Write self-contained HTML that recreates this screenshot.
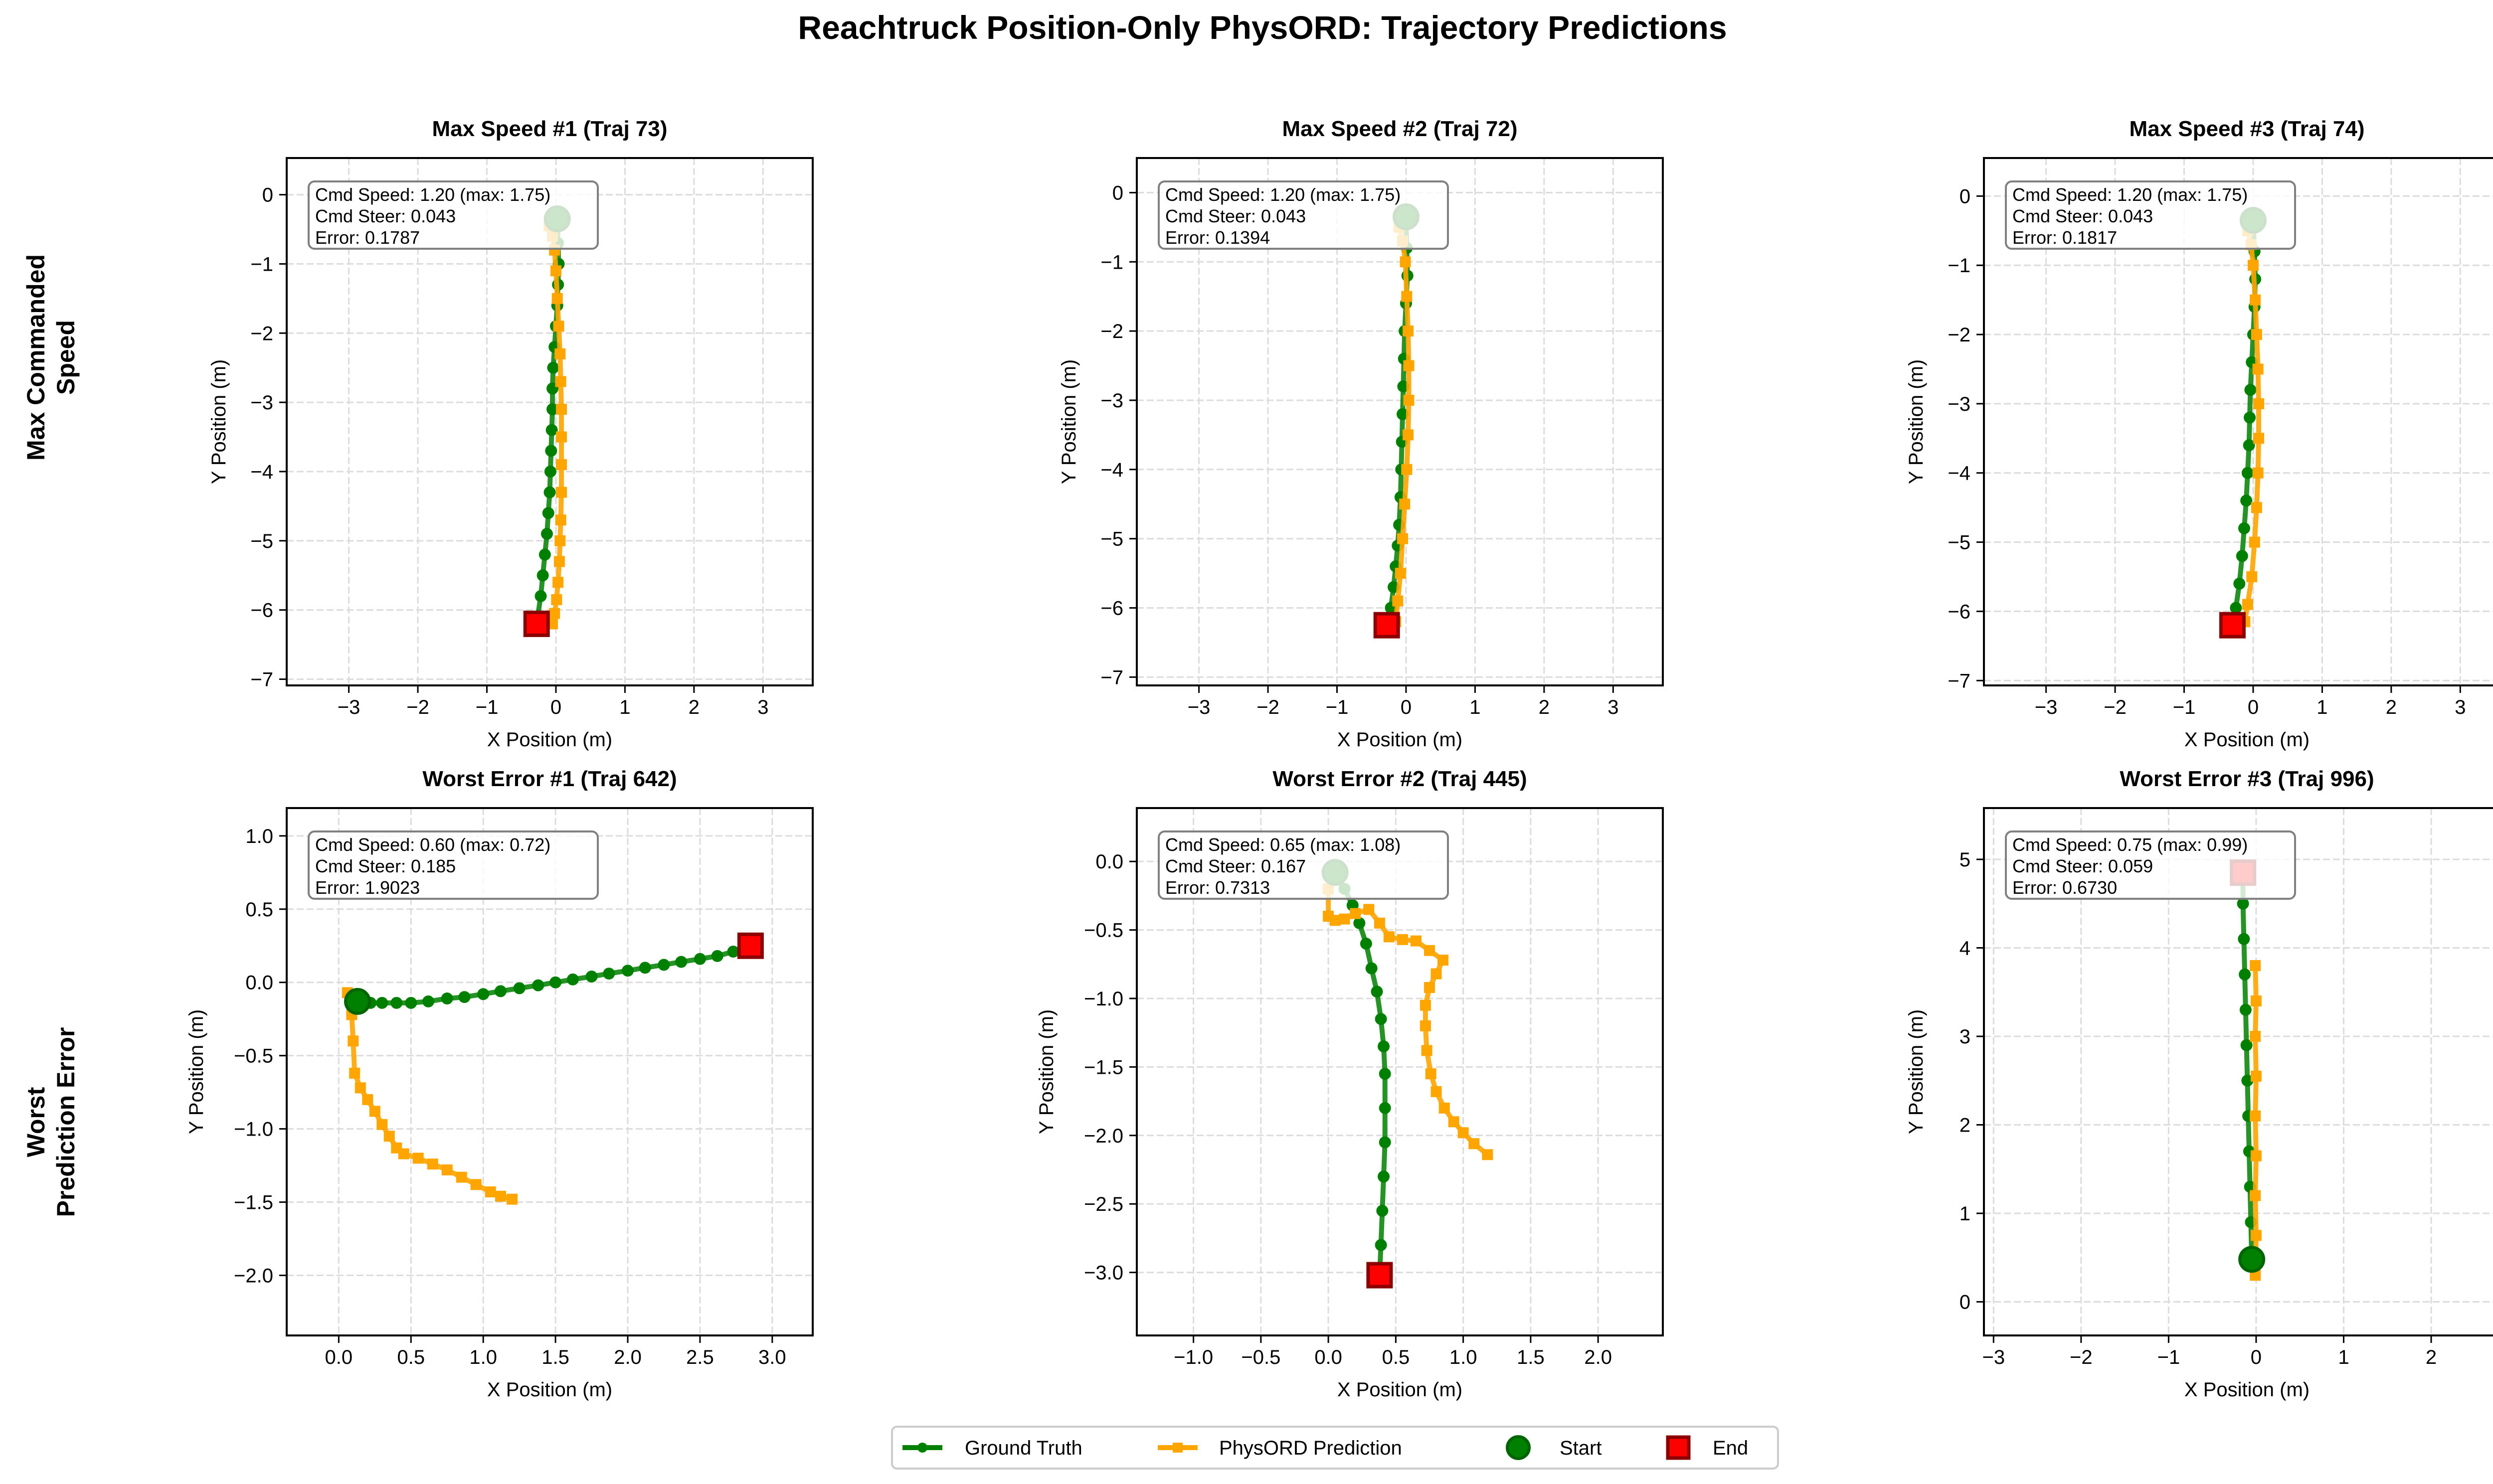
<!DOCTYPE html>
<html><head><meta charset="utf-8"><style>
html,body{margin:0;padding:0;background:#fff;}
svg{display:block;font-family:"Liberation Sans","DejaVu Sans",sans-serif;}
</style></head><body>
<svg id="fig" width="5065" height="2977" viewBox="0 0 5065 2977" xmlns="http://www.w3.org/2000/svg">
<rect width="5065" height="2977" fill="#fff"/>
<text x="2532" y="78" text-anchor="middle" font-size="66" font-weight="bold">Reachtruck Position-Only PhysORD: Trajectory Predictions</text>
<text transform="translate(97,717) rotate(-90)" text-anchor="middle" font-size="50" font-weight="bold"><tspan x="0" dy="-8">Max Commanded</tspan><tspan x="0" dy="60">Speed</tspan></text>
<text transform="translate(97,2251) rotate(-90)" text-anchor="middle" font-size="50" font-weight="bold"><tspan x="0" dy="-8">Worst</tspan><tspan x="0" dy="60">Prediction Error</tspan></text>
</svg>
<script>
// ---- data ----
const titles = ["Max Speed #1 (Traj 73)","Max Speed #2 (Traj 72)","Max Speed #3 (Traj 74)","Worst Error #1 (Traj 642)","Worst Error #2 (Traj 445)","Worst Error #3 (Traj 996)"];
const boxSpeed = ["1.20 (max: 1.75)","1.20 (max: 1.75)","1.20 (max: 1.75)","0.60 (max: 0.72)","0.65 (max: 1.08)","0.75 (max: 0.99)"];
const boxSteer = ["0.043","0.043","0.043","0.185","0.167","0.059"];
const boxError = ["0.1787","0.1394","0.1817","1.9023","0.7313","0.6730"];

const gt0x=[0.02,0.03,0.04,0.03,0.02,0.0,-0.02,-0.04,-0.05,-0.05,-0.06,-0.07,-0.08,-0.09,-0.11,-0.13,-0.16,-0.19,-0.22,-0.28];
const gt0y=[-0.35,-0.7,-1.0,-1.3,-1.6,-1.9,-2.2,-2.5,-2.8,-3.1,-3.4,-3.7,-4.0,-4.3,-4.6,-4.9,-5.2,-5.5,-5.8,-6.2];
const pr0x=[-0.1,-0.05,-0.02,0.0,0.02,0.04,0.06,0.07,0.08,0.08,0.08,0.08,0.07,0.06,0.05,0.03,0.01,-0.02,-0.05];
const pr0y=[-0.45,-0.6,-0.8,-1.1,-1.5,-1.9,-2.3,-2.7,-3.1,-3.5,-3.9,-4.3,-4.7,-5.0,-5.3,-5.6,-5.85,-6.05,-6.2];

const gt1x=[0.0,0.01,0.02,0.0,-0.02,-0.03,-0.04,-0.05,-0.06,-0.07,-0.08,-0.1,-0.12,-0.15,-0.18,-0.22,-0.28];
const gt1y=[-0.35,-0.8,-1.2,-1.6,-2.0,-2.4,-2.8,-3.2,-3.6,-4.0,-4.4,-4.8,-5.1,-5.4,-5.7,-6.0,-6.25];
const pr1x=[-0.1,-0.05,-0.01,0.01,0.03,0.04,0.04,0.03,0.01,-0.02,-0.05,-0.08,-0.12,-0.15];
const pr1y=[-0.5,-0.7,-1.0,-1.5,-2.0,-2.5,-3.0,-3.5,-4.0,-4.5,-5.0,-5.5,-5.9,-6.2];

const gt2x=[0.0,0.02,0.03,0.02,0.0,-0.02,-0.04,-0.05,-0.06,-0.08,-0.1,-0.13,-0.16,-0.2,-0.25,-0.3];
const gt2y=[-0.35,-0.8,-1.2,-1.6,-2.0,-2.4,-2.8,-3.2,-3.6,-4.0,-4.4,-4.8,-5.2,-5.6,-5.95,-6.2];
const pr2x=[-0.08,-0.03,0.0,0.03,0.05,0.07,0.08,0.08,0.07,0.05,0.02,-0.02,-0.08,-0.12];
const pr2y=[-0.5,-0.7,-1.0,-1.5,-2.0,-2.5,-3.0,-3.5,-4.0,-4.5,-5.0,-5.5,-5.9,-6.15];

const gt3x=[0.13,0.22,0.3,0.4,0.5,0.62,0.75,0.87,1.0,1.12,1.25,1.38,1.5,1.62,1.75,1.87,2.0,2.12,2.25,2.37,2.5,2.62,2.73,2.85];
const gt3y=[-0.13,-0.14,-0.14,-0.14,-0.14,-0.13,-0.11,-0.1,-0.08,-0.06,-0.04,-0.02,0.0,0.02,0.04,0.06,0.08,0.1,0.12,0.14,0.16,0.18,0.21,0.25];
const pr3x=[0.06,0.09,0.1,0.11,0.15,0.2,0.25,0.3,0.35,0.4,0.45,0.55,0.65,0.75,0.85,0.95,1.05,1.12,1.2];
const pr3y=[-0.07,-0.22,-0.4,-0.62,-0.72,-0.8,-0.88,-0.97,-1.05,-1.13,-1.17,-1.2,-1.24,-1.28,-1.33,-1.38,-1.43,-1.46,-1.48];

const gt4x=[0.05,0.12,0.18,0.23,0.28,0.32,0.36,0.39,0.41,0.42,0.42,0.42,0.41,0.4,0.39,0.38];
const gt4y=[-0.08,-0.2,-0.32,-0.45,-0.6,-0.78,-0.95,-1.15,-1.35,-1.55,-1.8,-2.05,-2.3,-2.55,-2.8,-3.02];
const pr4x=[0.0,0.0,0.05,0.12,0.2,0.3,0.38,0.45,0.55,0.65,0.75,0.85,0.8,0.75,0.72,0.72,0.73,0.76,0.8,0.86,0.93,1.0,1.08,1.18];
const pr4y=[-0.2,-0.4,-0.43,-0.42,-0.38,-0.35,-0.45,-0.55,-0.57,-0.58,-0.65,-0.72,-0.82,-0.92,-1.05,-1.2,-1.38,-1.55,-1.68,-1.8,-1.9,-1.98,-2.06,-2.14];

const gt5x=[-0.05,-0.06,-0.07,-0.08,-0.09,-0.1,-0.11,-0.12,-0.13,-0.14,-0.15,-0.15];
const gt5y=[0.48,0.9,1.3,1.7,2.1,2.5,2.9,3.3,3.7,4.1,4.5,4.85];
const pr5x=[-0.01,0.0,-0.01,0.0,-0.01,0.0,-0.01,0.0,-0.01];
const pr5y=[0.3,0.75,1.2,1.65,2.1,2.55,3.0,3.4,3.8];

const gtX=[gt0x,gt1x,gt2x,gt3x,gt4x,gt5x], gtY=[gt0y,gt1y,gt2y,gt3y,gt4y,gt5y];
const prX=[pr0x,pr1x,pr2x,pr3x,pr4x,pr5x], prY=[pr0y,pr1y,pr2y,pr3y,pr4y,pr5y];

const xTicks=[[-3,-2,-1,0,1,2,3],[-3,-2,-1,0,1,2,3],[-3,-2,-1,0,1,2,3],[0,0.5,1,1.5,2,2.5,3],[-1,-0.5,0,0.5,1,1.5,2],[-3,-2,-1,0,1,2]];
const yTicks=[[0,-1,-2,-3,-4,-5,-6,-7],[0,-1,-2,-3,-4,-5,-6,-7],[0,-1,-2,-3,-4,-5,-6,-7],[1,0.5,0,-0.5,-1,-1.5,-2],[0,-0.5,-1,-1.5,-2,-2.5,-3],[0,1,2,3,4,5]];
const xLims=[[-3.9,3.72],[-3.9,3.72],[-3.9,3.72],[-0.36,3.28],[-1.42,2.48],[-3.11,2.9]];
const yLims=[[-7.09,0.53],[-7.12,0.5],[-7.07,0.55],[-2.41,1.19],[-3.46,0.39],[-0.38,5.58]];
const tickDec=[0,0,0,1,1,0];

// ---- layout ----
const NS="http://www.w3.org/2000/svg";
const svg=document.getElementById('fig');
const colL=[575,2280,3979], rowT=[317,1621], AW=1055, AH=1058;
function el(tag,attrs,parent){const e=document.createElementNS(NS,tag);for(const k in attrs)e.setAttribute(k,attrs[k]);(parent||svg).appendChild(e);return e;}
function fmt(v,d){let s=v.toFixed(d);return s.replace('-','\u2212');}

for(let p=0;p<6;p++){
  const L=colL[p%3], T=rowT[Math.floor(p/3)];
  const g=el('g',{});
  
  
  const xs=v=>L+(v-xLims[p][0])/(xLims[p][1]-xLims[p][0])*AW;
  const ys=v=>T+AH-(v-yLims[p][0])/(yLims[p][1]-yLims[p][0])*AH;
  const cid='clip'+p;
  const cp=el('clipPath',{id:cid},g); el('rect',{x:L,y:T,width:AW,height:AH},cp);
  xTicks[p].forEach(v=>{const l=el('line',{x1:xs(v),x2:xs(v),y1:T,y2:T+AH,stroke:'#dcdcdc','stroke-width':3,'stroke-dasharray':'14,6'},g);
    });
  yTicks[p].forEach(v=>{const l=el('line',{x1:L,x2:L+AW,y1:ys(v),y2:ys(v),stroke:'#dcdcdc','stroke-width':3,'stroke-dasharray':'14,6'},g);
    });
  const dg=el('g',{'clip-path':'url(#'+cid+')'},g);
  const gp=gtX[p].map((x,i)=>xs(x)+','+ys(gtY[p][i])).join(' ');
  const gl=el('polyline',{points:gp,fill:'none',stroke:'#008000','stroke-width':10,opacity:0.85,'stroke-linejoin':'round'},dg);
  
  gtX[p].forEach((x,i)=>{const c=el('circle',{cx:xs(x),cy:ys(gtY[p][i]),r:12,fill:'#008000'},dg);
    });
  const pp=prX[p].map((x,i)=>xs(x)+','+ys(prY[p][i])).join(' ');
  const pl=el('polyline',{points:pp,fill:'none',stroke:'#FFA500','stroke-width':10,opacity:0.9,'stroke-linejoin':'round'},dg);
  
  prX[p].forEach((x,i)=>{const r=el('rect',{x:xs(x)-11,y:ys(prY[p][i])-11,width:22,height:22,fill:'#FFA500'},dg);
    });
  const n=gtX[p].length;
  const st=el('circle',{cx:xs(gtX[p][0]),cy:ys(gtY[p][0]),r:24,fill:'#008000',stroke:'#006400','stroke-width':6},dg);
  
  const en=el('rect',{x:xs(gtX[p][n-1])-23,y:ys(gtY[p][n-1])-23,width:46,height:46,fill:'#ff0000',stroke:'#8b0000','stroke-width':7},dg);
  
  const bx=el('rect',{x:L+44,y:T+47,width:580,height:135,rx:12,fill:'#fff','fill-opacity':0.8,stroke:'#808080','stroke-width':4},g);
  
  [['Cmd Speed: ',boxSpeed[p]],['Cmd Steer: ',boxSteer[p]],['Error: ',boxError[p]]].forEach((t,i)=>{
    const tx=el('text',{x:L+57,y:T+86+i*43,'font-size':36},g);tx.textContent=t[0]+t[1];
    });
  const fr=el('rect',{x:L,y:T,width:AW,height:AH,fill:'none',stroke:'#000','stroke-width':4},g);
  
  xTicks[p].forEach(v=>{el('line',{x1:xs(v),x2:xs(v),y1:T+AH,y2:T+AH+15,stroke:'#000','stroke-width':3},g);
    const t=el('text',{x:xs(v),y:T+AH+57,'font-size':40,'text-anchor':'middle'},g);t.textContent=fmt(v,tickDec[p]);
    });
  yTicks[p].forEach(v=>{el('line',{x1:L-15,x2:L,y1:ys(v),y2:ys(v),stroke:'#000','stroke-width':3},g);
    const t=el('text',{x:L-27,y:ys(v)+14,'font-size':40,'text-anchor':'end'},g);t.textContent=fmt(v,tickDec[p]);
    });
  const xl=el('text',{x:L+AW/2,y:T+AH+122,'font-size':40,'text-anchor':'middle'},g);xl.textContent='X Position (m)';
  
  const yoff=tickDec[p]?168:123;
  const yl=el('text',{transform:'translate('+(L-yoff)+','+(T+AH/2)+') rotate(-90)','font-size':40,'text-anchor':'middle'},g);yl.textContent='Y Position (m)';
  
  const ti=el('text',{x:L+AW/2,y:T-44,'font-size':44,'font-weight':'bold','text-anchor':'middle'},g);ti.textContent=titles[p];
  
}
const lg=el('g',{});


el('rect',{x:1789,y:2862,width:1777,height:84,rx:10,fill:'#fff',stroke:'#cccccc','stroke-width':4},lg);
const ly=2904;
el('line',{x1:1810,x2:1890,y1:ly,y2:ly,stroke:'#008000','stroke-width':10},lg);
el('circle',{cx:1850,cy:ly,r:10,fill:'#008000'},lg);
let t1=el('text',{x:1935,y:ly+14,'font-size':40},lg);t1.textContent='Ground Truth';

el('line',{x1:2322,x2:2402,y1:ly,y2:ly,stroke:'#FFA500','stroke-width':10},lg);
el('rect',{x:2352,y:ly-10,width:20,height:20,fill:'#FFA500'},lg);
let t2=el('text',{x:2445,y:ly+14,'font-size':40},lg);t2.textContent='PhysORD Prediction';

el('circle',{cx:3045,cy:ly,r:22,fill:'#008000',stroke:'#006400','stroke-width':6},lg);
let t3=el('text',{x:3128,y:ly+14,'font-size':40},lg);t3.textContent='Start';

el('rect',{x:3345,y:ly-21,width:42,height:42,fill:'#ff0000',stroke:'#8b0000','stroke-width':7},lg);
let t4=el('text',{x:3435,y:ly+14,'font-size':40},lg);t4.textContent='End';

</script>
</body></html>
